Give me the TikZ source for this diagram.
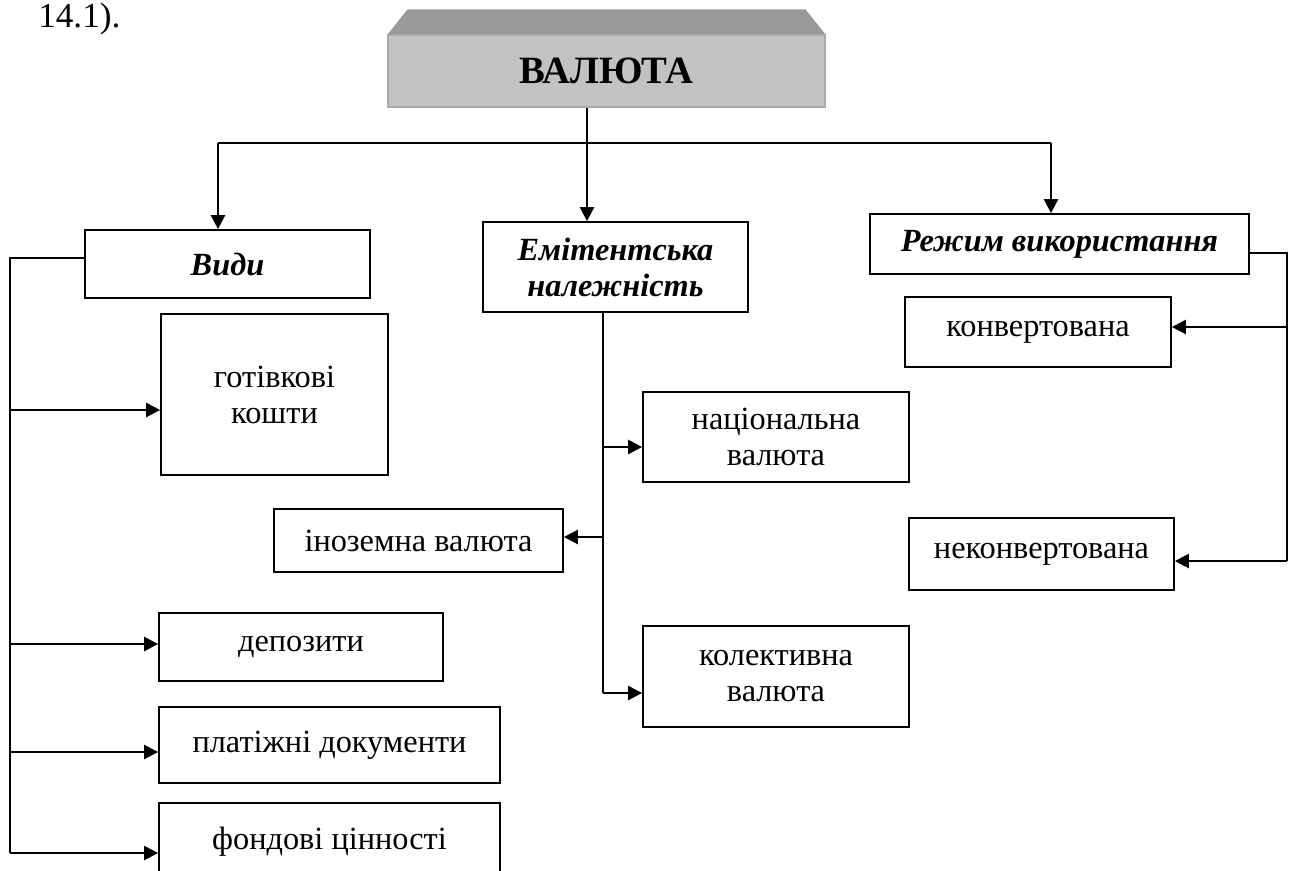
\documentclass[tikz,border=0pt]{standalone}
\usepackage{fontspec}
\setmainfont{Liberation Serif}
\usetikzlibrary{arrows.meta,calc}

\definecolor{valfront}{HTML}{C2C2C2}
\definecolor{valtop}{HTML}{999999}
\definecolor{valedge}{HTML}{ABABAB}
\newcommand{\px}{0.02cm}

\begin{document}
\begin{tikzpicture}[x=0.02cm,y=-0.02cm,
  wh/.style 2 args={minimum width=#1*\px,minimum height=#2*\px},
  box/.style={draw,line width=1pt,inner sep=0pt,align=center,
    font=\fontsize{18.4}{20.5}\selectfont},
  head/.style={box,font=\fontsize{18.4}{20.5}\selectfont\bfseries\itshape},
  link/.style={line width=1.4pt},
  arr/.style={link,-{Triangle[length=8pt,width=8pt]}}]
\useasboundingbox (0,0) rectangle (1294,870);

% text above the picture
\node[anchor=base west,inner sep=0pt,font=\fontsize{20}{22}\selectfont] (capt) at (38,27) {14.1).};

% top box
\node[wh={437}{72},fill=valfront,draw=valedge,line width=0.6pt,
  font=\fontsize{22}{24}\selectfont\bfseries] (valuta) at (606.5,71) {ВАЛЮТА};
\fill[valtop] (valuta.north west) -- ++(20,-25) -- ($(valuta.north east)+(-20,-25)$)
  -- (valuta.north east) -- cycle;

% three groups
\node[head,wh={285}{68}] (vydy) at (227.5,264) {Види};
\node[head,wh={265}{90}] (emit) at (615.5,267) {Емітентська\\належність};
\node[head,wh={379}{60}] (rezhym) at (1059.5,244) {Режим використання};

% kinds
\node[box,wh={227}{161}] (hotiv) at (274.5,394.5) {готівкові\\кошти};
\node[box,wh={284}{68}] (depoz) at (301,647) {депозити};
\node[box,wh={341}{76}] (platizh) at (329.5,745) {платіжні документи};
\node[box,wh={341}{77}] (fond) at (329.5,841.5) {фондові цінності};

% issuer
\node[box,wh={266}{90}] (nats) at (776,437) {національна\\валюта};
\node[box,wh={289}{63}] (inoz) at (418.5,540.5) {іноземна валюта};
\node[box,wh={266}{101}] (kolekt) at (776,676.5) {колективна\\валюта};

% mode of use
\node[box,wh={266}{70}] (konv) at (1038,332) {конвертована};
\node[box,wh={265}{72}] (nekonv) at (1041.5,554) {неконвертована};

% top branching
\coordinate (busL) at (218,143);
\coordinate (busM) at (587,143);
\coordinate (busR) at (1051,143);
\draw[link] (valuta.south -| busM) -- (busM);
\draw[link] (busL) -- (busR);
\draw[arr] (busL) -- (busL |- vydy.north);
\draw[arr] (busM) -- (busM |- emit.north);
\draw[arr] (busR) -- (busR |- rezhym.north);

% left line
\coordinate (lt) at (10,258);
\coordinate (l1) at (10,410);
\coordinate (l2) at (10,644);
\coordinate (l3) at (10,752);
\coordinate (l4) at (10,853);
\draw[link] (vydy.west |- lt) -- (lt) -- (l4);
\draw[arr] (l1) -- (l1 -| hotiv.west);
\draw[arr] (l2) -- (l2 -| depoz.west);
\draw[arr] (l3) -- (l3 -| platizh.west);
\draw[arr] (l4) -- (l4 -| fond.west);

% middle line
\coordinate (mt) at (603,312);
\coordinate (m1) at (603,447);
\coordinate (m2) at (603,537);
\coordinate (m3) at (603,693);
\draw[link] (emit.south -| mt) -- (m3);
\draw[arr] (m1) -- (m1 -| nats.west);
\draw[arr] (m2) -- (m2 -| inoz.east);
\draw[arr] (m3) -- (m3 -| kolekt.west);

% right line
\coordinate (rt) at (1287,253);
\coordinate (r1) at (1287,327);
\coordinate (r2) at (1287,561);
\draw[link] (rezhym.east |- rt) -- (rt) -- (r2);
\draw[arr] (r1) -- (r1 -| konv.east);
\draw[arr] (r2) -- (r2 -| nekonv.east);
\end{tikzpicture}
\end{document}
